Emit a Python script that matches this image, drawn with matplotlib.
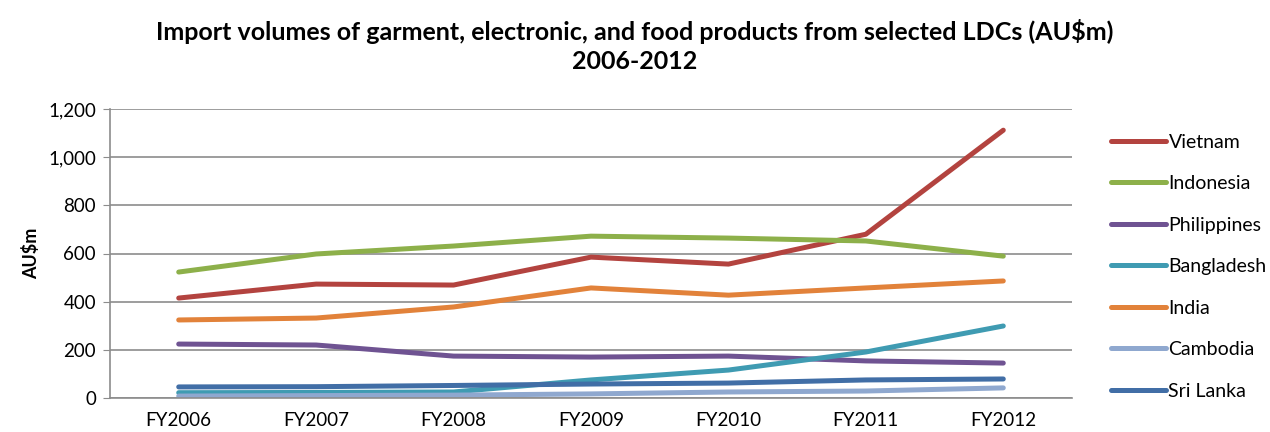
import matplotlib
matplotlib.use("Agg")
import matplotlib.pyplot as plt
from matplotlib.ticker import FuncFormatter, MultipleLocator

plt.rcParams['font.family'] = ['Lato', 'DejaVu Sans']

years = ["FY2006", "FY2007", "FY2008", "FY2009", "FY2010", "FY2011", "FY2012"]
vietnam = [415, 473, 469, 585, 556, 680, 1112]
indonesia = [523, 598, 631, 672, 664, 652, 589]
philippines = [224, 220, 174, 170, 174, 154, 145]
bangladesh = [22, 23, 25, 75, 116, 191, 299]
india = [324, 332, 378, 457, 427, 457, 486]
cambodia = [8, 10, 12, 17, 25, 29, 42]
sri_lanka = [46, 47, 52, 58, 62, 75, 79]

series = [
    ("Vietnam", vietnam, "#B3433F"),
    ("Indonesia", indonesia, "#8DB04A"),
    ("Philippines", philippines, "#6F5392"),
    ("Bangladesh", bangladesh, "#3F9BB2"),
    ("India", india, "#E2823A"),
    ("Cambodia", cambodia, "#8FA8CF"),
    ("Sri Lanka", sri_lanka, "#416EA6"),
]

fig = plt.figure(figsize=(12.7, 4.32), dpi=100)
ax = fig.add_axes([110/1270, 34/432, 962/1270, 289/432])

x = list(range(len(years)))
for name, vals, col in series:
    ax.plot(x, vals, color=col, lw=3.6, label=name, solid_capstyle='round',
            solid_joinstyle='round')

ax.set_xlim(-0.5, len(years) - 0.5)
ax.set_ylim(0, 1200)
ax.yaxis.set_major_locator(MultipleLocator(200))
ax.yaxis.set_major_formatter(FuncFormatter(lambda v, p: f"{int(v):,}"))
ax.set_xticks(x)
ax.set_xticklabels(years)
ax.grid(axis='y', color='#8C8C8C', lw=1.2)
ax.set_axisbelow(True)
for s in ['top', 'right']:
    ax.spines[s].set_visible(False)
for s in ['left', 'bottom']:
    ax.spines[s].set_color('#8C8C8C')
    ax.spines[s].set_linewidth(1.2)
ax.tick_params(axis='y', length=5, color='#8C8C8C', labelsize=13.5, pad=5)
ax.tick_params(axis='x', length=0, labelsize=13.5, pad=10)
ax.set_ylabel("AU$m", fontsize=13, fontweight='bold', labelpad=6)

fig.text(0.5, 0.893, "Import volumes of garment, electronic, and food products from selected LDCs (AU$m)\n2006-2012",
         ha='center', va='center', fontsize=18, fontweight='bold', linespacing=1.32)

leg = fig.legend(loc='upper left', bbox_to_anchor=(1101/1270, 1 - 124/432),
                 frameon=False, fontsize=14, handlelength=2.85, handletextpad=0.12,
                 labelspacing=1.26, borderpad=0)

fig.savefig("out.png", dpi=100)
